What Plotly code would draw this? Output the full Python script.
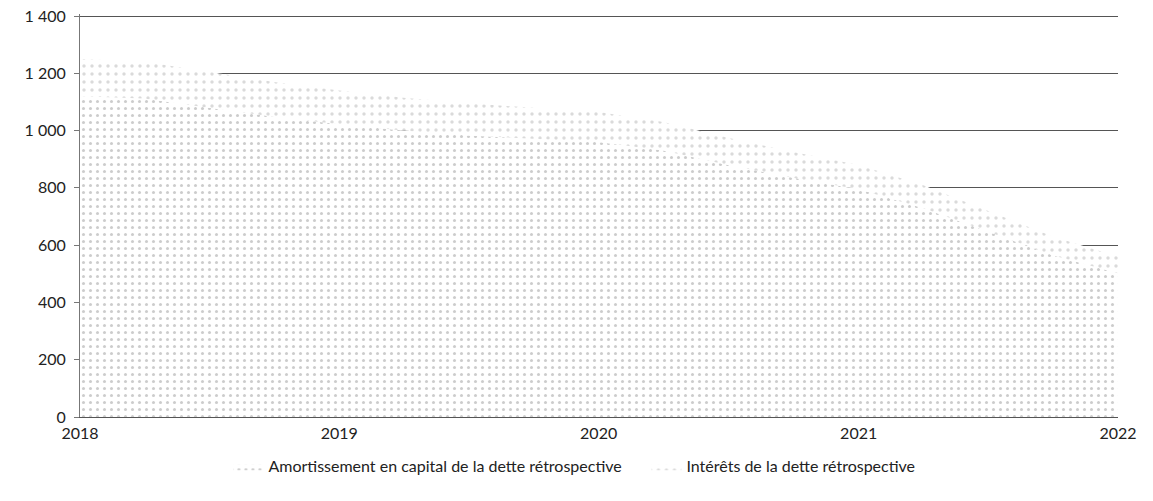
import plotly.graph_objects as go

dates = ["2018-01-01", "2018-04-01", "2018-07-01", "2018-10-01",
         "2019-01-01", "2019-04-01", "2019-07-01", "2019-10-01",
         "2020-01-01", "2020-04-01", "2020-07-01", "2020-10-01",
         "2021-01-01", "2021-04-01", "2021-07-01", "2021-10-01",
         "2022-01-01"]
total = [1250, 1240, 1205, 1170, 1140, 1115, 1095, 1080, 1065, 1030, 975, 925,
         880, 810, 720, 630, 560]
interets = [130, 128, 125, 122, 118, 115, 112, 108, 105, 100, 95, 90, 85, 80, 72, 65, 58]
amortissement = [t - i for t, i in zip(total, interets)]

y_ticks = [0, 200, 400, 600, 800, 1000, 1200, 1400]
x_ticks = ["2018-01-01", "2019-01-01", "2020-01-01", "2021-01-01", "2022-01-01"]
x_labels = ["2018", "2019", "2020", "2021", "2022"]

name_a = "Amortissement en capital de la dette rétrospective"
name_i = "Intérêts de la dette rétrospective"

fig = go.Figure()
fig.add_trace(go.Scatter(
    x=dates, y=amortissement, name=name_a, stackgroup="one", mode="lines",
    line=dict(width=0, color="#999999"),
    fillcolor="white",
    fillpattern=dict(shape=".", fgcolor="#9a9a9a", bgcolor="white", size=7, solidity=0.15),
))
fig.add_trace(go.Scatter(
    x=dates, y=interets, name=name_i, stackgroup="one", mode="lines",
    line=dict(width=0, color="#bbbbbb"),
    fillcolor="white",
    fillpattern=dict(shape=".", fgcolor="#b5b5b5", bgcolor="white", size=8, solidity=0.15),
))

fig.update_layout(
    width=1153, height=501,
    margin=dict(l=80, r=35, t=14, b=84, autoexpand=False),
    paper_bgcolor="white", plot_bgcolor="white",
    font=dict(family="Lato, Open Sans, sans-serif", size=16, color="#222222"),
    separators=", ",
    showlegend=True,
    legend=dict(orientation="h", x=0.143, xanchor="left", y=-0.08, yanchor="top",
                font=dict(size=16), entrywidth=373, entrywidthmode="pixels",
                itemwidth=30, traceorder="normal"),
    xaxis=dict(type="date", range=["2018-01-01", "2022-01-01"],
               tickvals=x_ticks, ticktext=x_labels,
               showgrid=False, showline=True, linecolor="#555555", linewidth=1,
               ticks="outside", ticklen=2, tickcolor="rgba(0,0,0,0)",
               zeroline=False, tickfont=dict(size=16)),
    yaxis=dict(range=[0, 1407], tickvals=y_ticks, tickformat=",d",
               showgrid=True, gridcolor="#555555", gridwidth=1,
               showline=True, linecolor="#777777", linewidth=1,
               ticks="outside", ticklen=5, tickcolor="#777777",
               ticklabelstandoff=5,
               zeroline=False, tickfont=dict(size=16)),
)

fig.write_html("out.html", post_script="document.body.style.margin='0';",
               config={"displayModeBar": False})
